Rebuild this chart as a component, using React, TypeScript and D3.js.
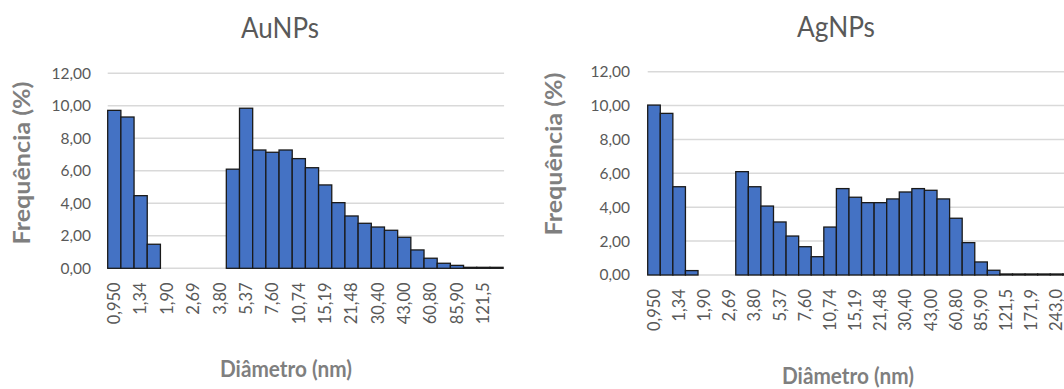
import React from "react";
import * as d3 from "d3";

// Size-class labels (diameter in nm, log-spaced bins)
const auCategories = [
  "0,950", "1,13", "1,34", "1,60", "1,90", "2,26", "2,69", "3,20", "3,80", "4,52",
  "5,37", "6,39", "7,60", "9,03", "10,74", "12,77", "15,19", "18,06", "21,48", "25,55",
  "30,40", "36,13", "43,00", "51,11", "60,80", "72,30", "85,90", "102,2", "121,5", "144,5",
];

const agCategories = [
  "0,950", "1,13", "1,34", "1,60", "1,90", "2,26", "2,69", "3,20", "3,80", "4,52",
  "5,37", "6,39", "7,60", "9,03", "10,74", "12,77", "15,19", "18,06", "21,48", "25,55",
  "30,40", "36,13", "43,00", "51,11", "60,80", "72,30", "85,90", "102,2", "121,5", "144,5",
  "171,9", "204,4", "243,0", "289,0",
];

// Frequency (%) per size class
const auValues = [
  9.72, 9.31, 4.47, 1.48, 0, 0, 0, 0, 0, 6.1,
  9.85, 7.28, 7.14, 7.28, 6.75, 6.19, 5.13, 4.04, 3.22, 2.77,
  2.54, 2.34, 1.91, 1.13, 0.62, 0.31, 0.18, 0.06, 0.06, 0.06,
];

const agValues = [
  10.03, 9.54, 5.21, 0.26, 0, 0, 0, 6.1, 5.21, 4.07,
  3.13, 2.3, 1.67, 1.08, 2.83, 5.1, 4.59, 4.27, 4.27, 4.49,
  4.9, 5.1, 5.0, 4.49, 3.35, 1.91, 0.77, 0.28, 0.06, 0.06,
  0.06, 0.06, 0.06, 0.06,
];

const yTicks = [0, 2, 4, 6, 8, 10, 12];

const fmt = (v: number) => v.toFixed(2).replace(".", ",");

const FONT = "Lato, 'Open Sans', 'DejaVu Sans', sans-serif";
const BAR_FILL = "#4472C4";
const GRID = "#d9d9d9";
const TEXT = "#595959";
const AXIS_TITLE = "#7f7f7f";

type PanelProps = {
  title: string;
  categories: string[];
  values: number[];
  x0: number;
  x1: number;
  yBottom: number;
  yTop: number;
  yLabelRight: number;
  titleX: number;
  titleY: number;
  yTitleX: number;
  yTitleY: number;
  xTitleX: number;
  xTitleY: number;
};

function Panel(p: PanelProps) {
  const x = d3.scaleBand<string>().domain(p.categories).range([p.x0, p.x1]).paddingInner(0).paddingOuter(0);
  const y = d3.scaleLinear().domain([0, 12]).range([p.yBottom, p.yTop]);
  const bw = x.bandwidth();

  return (
    <g>
      <text x={p.titleX} y={p.titleY} textAnchor="middle" fontFamily={FONT} fontSize={29} fill={TEXT} textLength={78} lengthAdjust="spacingAndGlyphs">
        {p.title}
      </text>

      {yTicks.map((t) => (
        <g key={t}>
          <line x1={p.x0} x2={p.x1 + 1} y1={y(t)} y2={y(t)} stroke={GRID} strokeWidth={1.5} />
          <text x={p.yLabelRight} y={y(t)} dy="0.35em" textAnchor="end" fontFamily={FONT} fontSize={15.5} fill={TEXT}>
            {fmt(t)}
          </text>
        </g>
      ))}

      {p.categories.map((c, i) => (
        <rect
          key={c}
          x={x(c)!}
          y={y(p.values[i])}
          width={bw}
          height={y(0) - y(p.values[i])}
          fill={BAR_FILL}
          stroke={p.values[i] > 0 ? "#1a1a1a" : "none"}
          strokeWidth={1.3}
        />
      ))}

      {p.categories.map((c, i) =>
        i % 2 === 0 ? (
          <text
            key={"l" + c}
            transform={`translate(${x(c)! + bw / 2},${p.yBottom + 14}) rotate(-90)`}
            textAnchor="end"
            dy="0.35em"
            fontFamily={FONT}
            fontSize={16.5}
            fill={TEXT}
          >
            {c}
          </text>
        ) : null
      )}

      <text
        transform={`translate(${p.yTitleX},${p.yTitleY}) rotate(-90)`}
        textAnchor="middle"
        dy="0.35em"
        fontFamily={FONT}
        fontWeight={700}
        fontSize={22}
        fill={AXIS_TITLE}
        textLength={163}
        lengthAdjust="spacingAndGlyphs"
      >
        Frequência (%)
      </text>

      <text x={p.xTitleX} y={p.xTitleY} textAnchor="middle" fontFamily={FONT} fontWeight={700} fontSize={22} fill={AXIS_TITLE} textLength={132} lengthAdjust="spacingAndGlyphs">
        Diâmetro (nm)
      </text>
    </g>
  );
}

export default function App() {
  return (
    <svg
      width={1064}
      height={389}
      style={{ position: "absolute", left: 0, top: 0, background: "#fff", overflow: "hidden" }}
    >
      <rect width={1064} height={389} fill="#fff" />
      <Panel
        title="AuNPs"
        categories={auCategories}
        values={auValues}
        x0={107.7}
        x1={503.1}
        yBottom={268.3}
        yTop={73.3}
        yLabelRight={91}
        titleX={280}
        titleY={38}
        yTitleX={22}
        yTitleY={163}
        xTitleX={286}
        xTitleY={377}
      />
      <Panel
        title="AgNPs"
        categories={agCategories}
        values={agValues}
        x0={647.7}
        x1={1075.4}
        yBottom={275}
        yTop={71.7}
        yLabelRight={630}
        titleX={836}
        titleY={37}
        yTitleX={554}
        yTitleY={154}
        xTitleX={848}
        xTitleY={384}
      />
    </svg>
  );
}
